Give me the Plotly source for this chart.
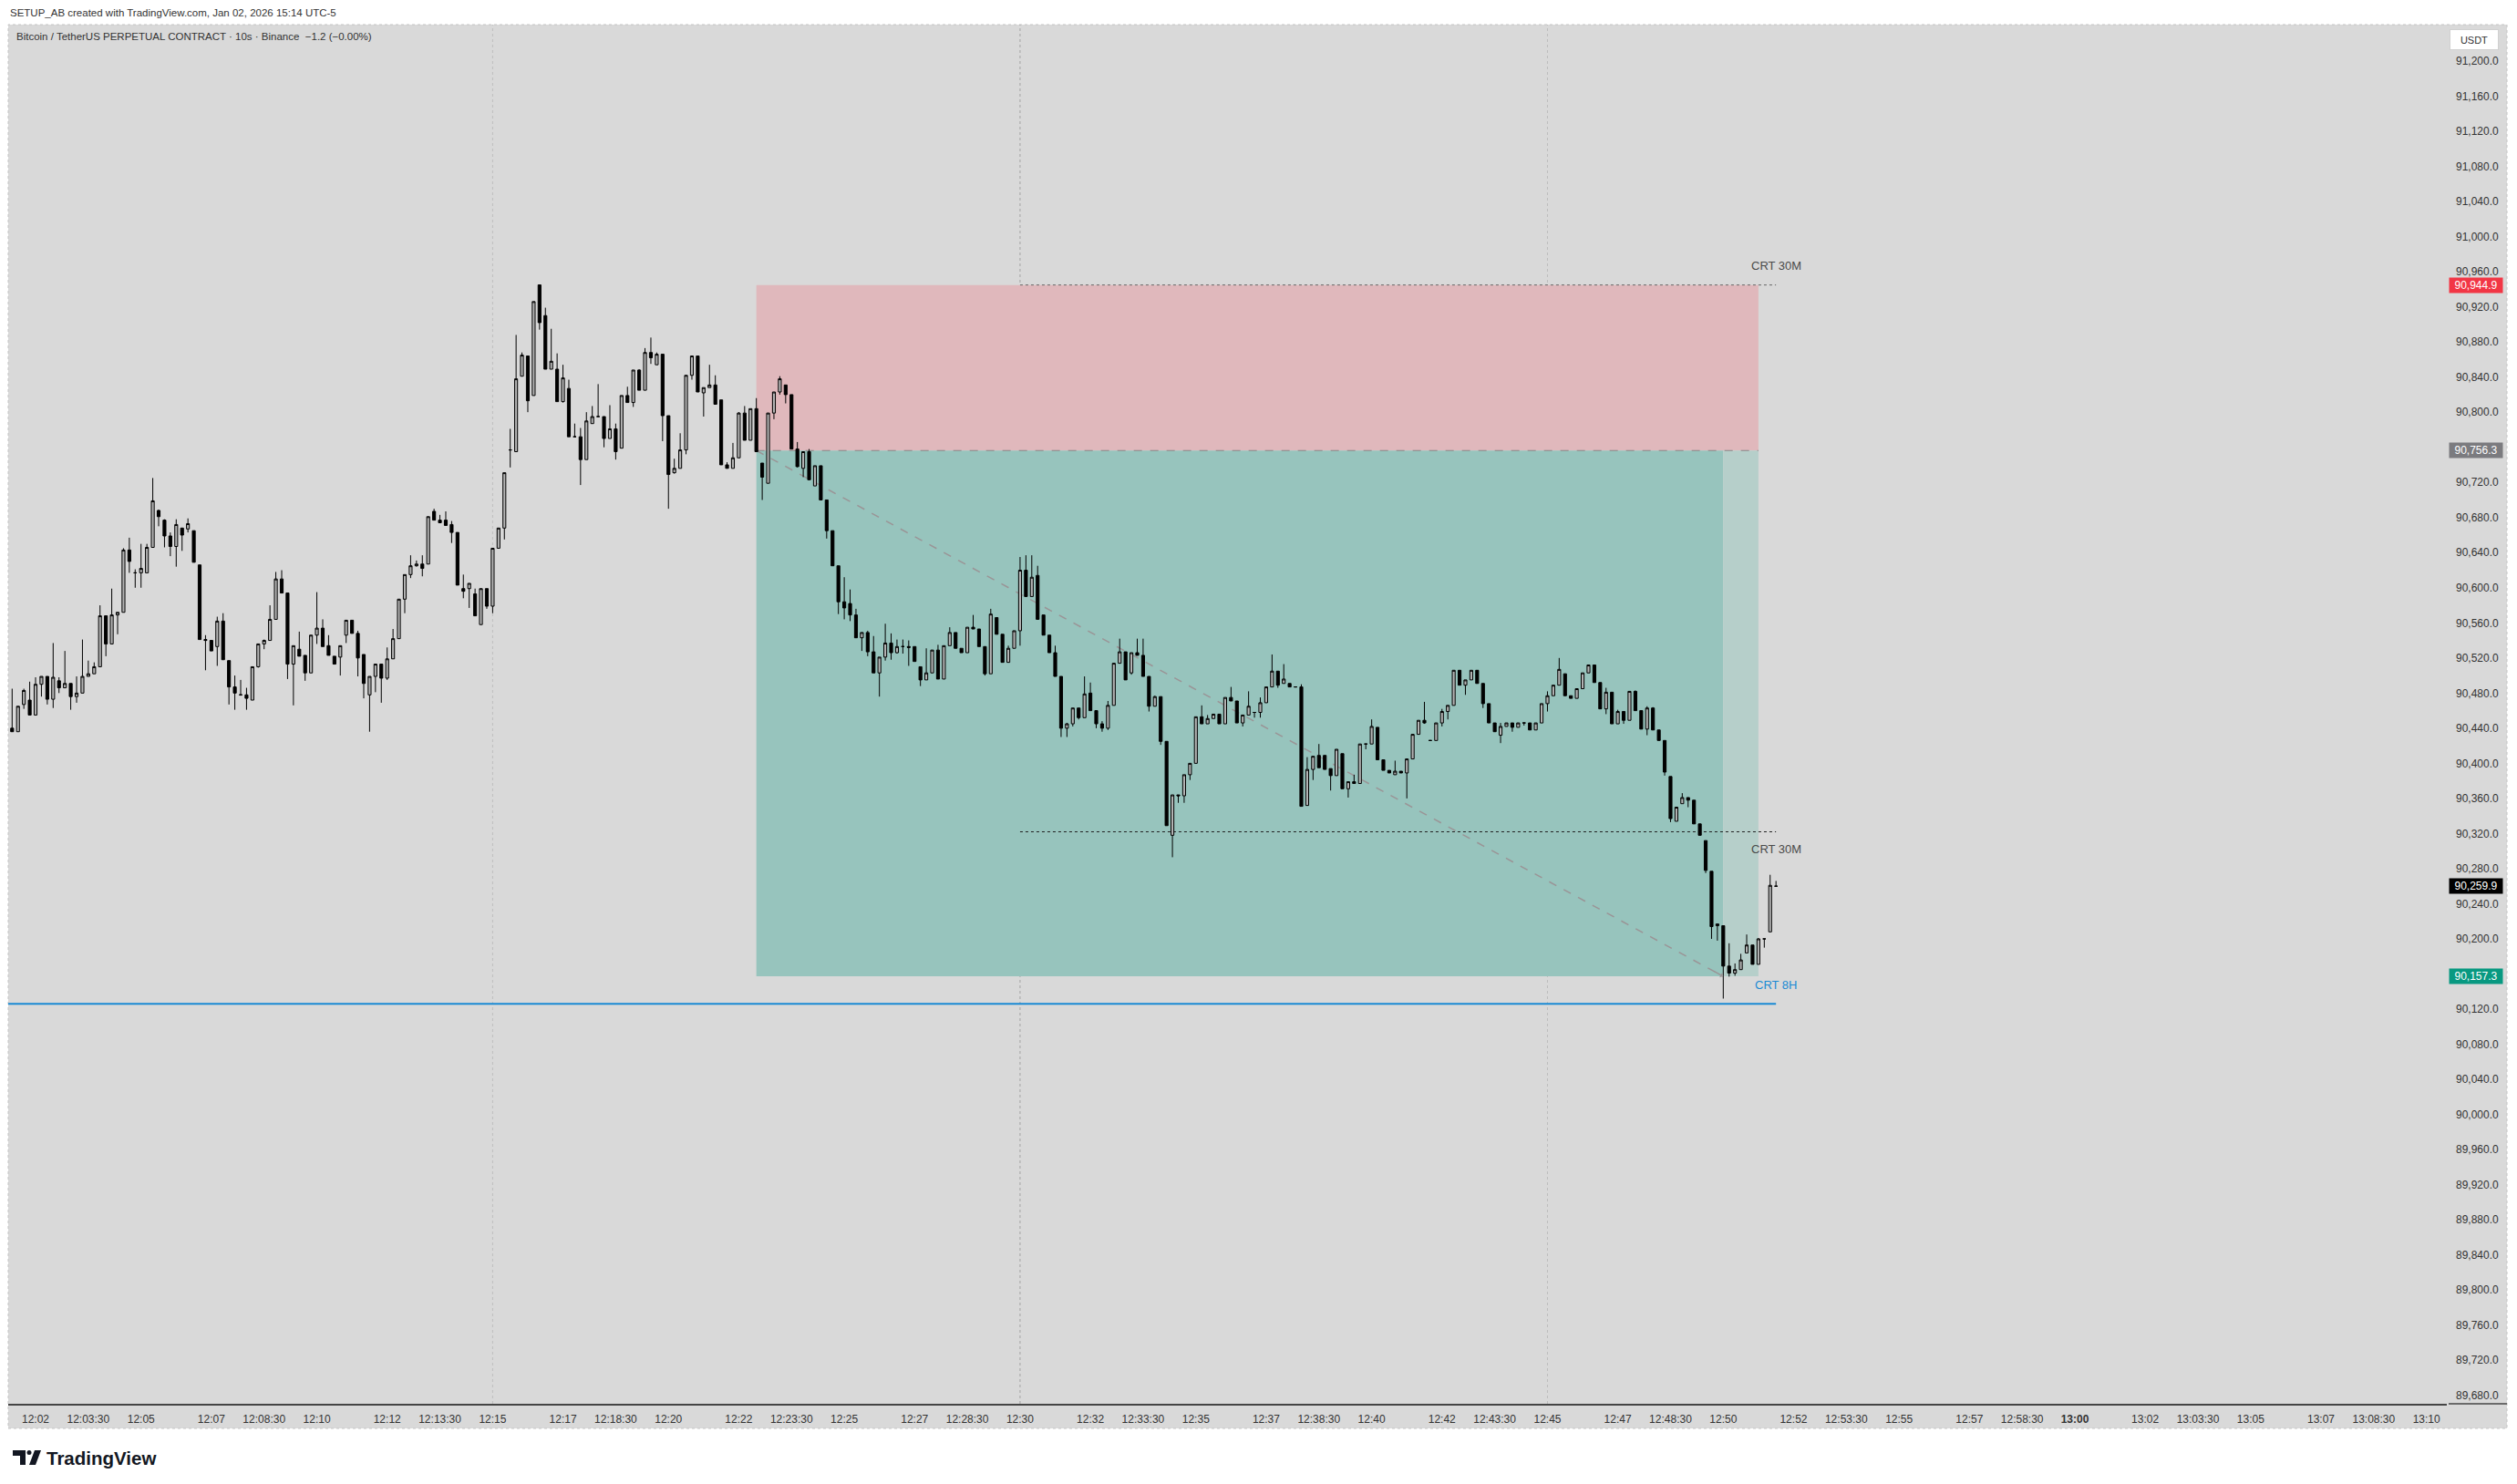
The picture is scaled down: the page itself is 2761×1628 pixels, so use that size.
import plotly.graph_objects as go
import pandas as pd

# ---------------- data (10-second candles, BTCUSDT.P) ----------------
open_ = [90440, 90436, 90467, 90472, 90455, 90490, 90499, 90473, 90494, 90486,
         90491, 90476, 90480, 90499, 90502, 90510, 90568, 90536, 90569, 90572,
         90643, 90617, 90617, 90617, 90646, 90688, 90677, 90659, 90647, 90668,
         90667, 90665, 90626, 90541, 90540, 90533, 90562, 90517, 90487, 90478,
         90478, 90472, 90510, 90536, 90540, 90564, 90610, 90594, 90513, 90530,
         90523, 90503, 90546, 90554, 90534, 90522, 90521, 90546, 90563, 90548,
         90524, 90478, 90499, 90513, 90497, 90519, 90542, 90587, 90615, 90625,
         90627, 90627, 90687, 90677, 90677, 90672, 90663, 90599, 90599, 90593,
         90558, 90599, 90579, 90645, 90668, 90757, 90755, 90841, 90864, 90819,
         90945, 90910, 90849, 90849, 90812, 90827, 90772, 90772, 90746, 90787,
         90795, 90795, 90770, 90781, 90759, 90819, 90811, 90848, 90825, 90868,
         90854, 90866, 90796, 90731, 90736, 90757, 90842, 90864, 90822, 90828,
         90831, 90814, 90740, 90736, 90748, 90799, 90768, 90804, 90742, 90719,
         90799, 90823, 90831, 90820, 90758, 90736, 90755, 90716, 90739, 90700,
         90665, 90625, 90584, 90582, 90569, 90543, 90549, 90527, 90503, 90521,
         90537, 90526, 90533, 90533, 90533, 90510, 90495, 90503, 90529, 90496,
         90534, 90549, 90531, 90526, 90555, 90553, 90533, 90502, 90566, 90547,
         90515, 90531, 90551, 90620, 90590, 90614, 90569, 90546, 90526, 90499,
         90440, 90445, 90463, 90452, 90480, 90460, 90445, 90440, 90466, 90514,
         90527, 90503, 90526, 90523, 90499, 90465, 90476, 90425, 90318, 90364,
         90363, 90387, 90400, 90453, 90445, 90451, 90456, 90445, 90475, 90471,
         90446, 90455, 90458, 90458, 90469, 90487, 90505, 90491, 90491, 90487,
         90487, 90352, 90393, 90409, 90409, 90394, 90386, 90411, 90371, 90379,
         90377, 90422, 90422, 90441, 90404, 90392, 90387, 90391, 90389, 90405,
         90433, 90449, 90426, 90426, 90446, 90459, 90466, 90506, 90489, 90495,
         90506, 90491, 90468, 90446, 90432, 90442, 90446, 90441, 90446, 90446,
         90438, 90446, 90468, 90477, 90489, 90502, 90477, 90474, 90485, 90503,
         90512, 90492, 90462, 90481, 90445, 90459, 90449, 90482, 90460, 90439,
         90463, 90438, 90426, 90385, 90334, 90354, 90361, 90358, 90331, 90312,
         90277, 90215, 90215, 90169, 90161, 90165, 90184, 90193, 90171, 90200,
         90208, 90260]
high = [90485, 90465, 90485, 90493, 90498, 90499, 90499, 90537, 90498, 90528,
        90491, 90499, 90541, 90517, 90515, 90580, 90568, 90599, 90572, 90645,
        90657, 90621, 90650, 90650, 90725, 90689, 90678, 90663, 90678, 90668,
        90679, 90665, 90626, 90546, 90540, 90567, 90571, 90517, 90500, 90495,
        90486, 90510, 90536, 90541, 90580, 90618, 90620, 90594, 90534, 90550,
        90523, 90546, 90595, 90564, 90546, 90522, 90534, 90563, 90563, 90551,
        90524, 90499, 90513, 90513, 90532, 90553, 90587, 90615, 90637, 90631,
        90637, 90681, 90690, 90683, 90687, 90676, 90663, 90615, 90605, 90599,
        90599, 90599, 90645, 90668, 90731, 90781, 90888, 90868, 90864, 90926,
        90945, 90919, 90895, 90867, 90854, 90837, 90787, 90782, 90800, 90807,
        90832, 90795, 90808, 90787, 90819, 90829, 90848, 90849, 90873, 90885,
        90868, 90866, 90796, 90747, 90776, 90842, 90864, 90864, 90828, 90854,
        90842, 90814, 90743, 90765, 90800, 90807, 90804, 90816, 90742, 90799,
        90823, 90841, 90831, 90820, 90766, 90755, 90758, 90739, 90739, 90700,
        90665, 90625, 90612, 90598, 90576, 90549, 90551, 90545, 90521, 90559,
        90548, 90541, 90541, 90540, 90533, 90510, 90531, 90529, 90535, 90534,
        90555, 90549, 90531, 90555, 90569, 90553, 90533, 90576, 90566, 90547,
        90534, 90551, 90635, 90637, 90637, 90625, 90569, 90546, 90534, 90499,
        90446, 90463, 90463, 90499, 90492, 90460, 90448, 90471, 90514, 90542,
        90527, 90526, 90542, 90542, 90499, 90477, 90476, 90425, 90364, 90364,
        90387, 90400, 90453, 90466, 90455, 90456, 90456, 90475, 90487, 90471,
        90455, 90482, 90458, 90475, 90487, 90524, 90505, 90513, 90491, 90487,
        90490, 90407, 90408, 90422, 90409, 90394, 90416, 90411, 90379, 90387,
        90422, 90422, 90450, 90441, 90404, 90392, 90403, 90391, 90405, 90433,
        90449, 90470, 90426, 90446, 90462, 90466, 90506, 90506, 90495, 90506,
        90506, 90491, 90468, 90446, 90446, 90446, 90446, 90446, 90446, 90446,
        90446, 90468, 90482, 90489, 90520, 90502, 90477, 90485, 90503, 90512,
        90512, 90492, 90486, 90481, 90461, 90459, 90482, 90483, 90460, 90465,
        90464, 90438, 90426, 90385, 90350, 90366, 90361, 90358, 90331, 90312,
        90277, 90217, 90215, 90195, 90172, 90183, 90205, 90193, 90201, 90200,
        90273, 90266]
low = [90436, 90436, 90462, 90455, 90455, 90476, 90467, 90463, 90480, 90486,
       90461, 90469, 90480, 90499, 90502, 90510, 90522, 90536, 90547, 90572,
       90617, 90600, 90600, 90617, 90646, 90670, 90646, 90636, 90624, 90642,
       90663, 90629, 90541, 90506, 90528, 90511, 90518, 90467, 90461, 90477,
       90461, 90472, 90509, 90530, 90540, 90564, 90594, 90496, 90466, 90522,
       90494, 90503, 90536, 90533, 90523, 90513, 90500, 90537, 90548, 90499,
       90474, 90436, 90481, 90469, 90495, 90519, 90542, 90571, 90611, 90624,
       90613, 90627, 90677, 90674, 90671, 90651, 90603, 90588, 90577, 90568,
       90558, 90576, 90571, 90645, 90655, 90737, 90755, 90841, 90800, 90819,
       90894, 90849, 90849, 90812, 90811, 90772, 90772, 90717, 90746, 90787,
       90795, 90760, 90770, 90746, 90759, 90811, 90806, 90825, 90825, 90855,
       90854, 90767, 90690, 90730, 90736, 90752, 90837, 90823, 90795, 90828,
       90809, 90740, 90736, 90736, 90748, 90768, 90768, 90755, 90700, 90719,
       90792, 90820, 90810, 90758, 90737, 90726, 90723, 90716, 90700, 90656,
       90625, 90570, 90564, 90562, 90543, 90528, 90522, 90503, 90476, 90517,
       90518, 90525, 90525, 90511, 90516, 90488, 90495, 90503, 90496, 90496,
       90534, 90531, 90526, 90526, 90553, 90533, 90500, 90502, 90547, 90515,
       90515, 90531, 90534, 90590, 90590, 90564, 90546, 90526, 90499, 90430,
       90430, 90442, 90450, 90452, 90460, 90440, 90436, 90438, 90466, 90514,
       90495, 90501, 90523, 90499, 90459, 90465, 90421, 90329, 90293, 90355,
       90355, 90381, 90400, 90445, 90445, 90451, 90445, 90445, 90471, 90446,
       90442, 90455, 90452, 90452, 90469, 90487, 90486, 90491, 90487, 90487,
       90351, 90352, 90381, 90395, 90393, 90369, 90386, 90371, 90361, 90377,
       90377, 90416, 90422, 90404, 90392, 90389, 90387, 90389, 90360, 90405,
       90433, 90445, 90426, 90426, 90442, 90450, 90466, 90489, 90478, 90495,
       90491, 90463, 90446, 90436, 90423, 90442, 90436, 90441, 90443, 90438,
       90438, 90446, 90459, 90477, 90489, 90477, 90474, 90474, 90485, 90503,
       90492, 90462, 90456, 90445, 90445, 90445, 90449, 90460, 90439, 90432,
       90438, 90426, 90386, 90333, 90334, 90354, 90350, 90331, 90318, 90275,
       90200, 90198, 90132, 90157, 90158, 90165, 90184, 90171, 90171, 90190,
       90208, 90260]
close = [90436, 90465, 90483, 90455, 90490, 90499, 90473, 90498, 90486, 90491,
         90476, 90480, 90499, 90502, 90510, 90568, 90536, 90569, 90572, 90643,
         90630, 90617, 90622, 90646, 90699, 90681, 90659, 90647, 90672, 90660,
         90673, 90629, 90541, 90540, 90528, 90562, 90518, 90487, 90480, 90478,
         90474, 90510, 90536, 90540, 90564, 90610, 90594, 90513, 90534, 90522,
         90503, 90546, 90554, 90533, 90523, 90513, 90534, 90563, 90548, 90520,
         90491, 90499, 90513, 90497, 90519, 90542, 90587, 90615, 90625, 90627,
         90622, 90681, 90677, 90674, 90671, 90663, 90603, 90596, 90605, 90568,
         90599, 90579, 90645, 90668, 90731, 90757, 90838, 90865, 90813, 90926,
         90902, 90849, 90858, 90812, 90839, 90772, 90772, 90746, 90790, 90795,
         90795, 90770, 90781, 90755, 90819, 90811, 90848, 90825, 90868, 90862,
         90866, 90796, 90729, 90736, 90757, 90842, 90864, 90823, 90828, 90831,
         90809, 90740, 90736, 90748, 90799, 90768, 90804, 90755, 90726, 90799,
         90823, 90838, 90820, 90758, 90738, 90755, 90723, 90739, 90700, 90665,
         90625, 90584, 90577, 90569, 90543, 90549, 90527, 90503, 90521, 90537,
         90526, 90533, 90533, 90532, 90516, 90495, 90503, 90529, 90496, 90534,
         90549, 90531, 90526, 90555, 90553, 90533, 90502, 90570, 90547, 90515,
         90531, 90551, 90620, 90590, 90612, 90564, 90546, 90526, 90499, 90440,
         90445, 90463, 90452, 90479, 90460, 90445, 90440, 90466, 90514, 90527,
         90495, 90526, 90523, 90499, 90465, 90476, 90425, 90329, 90364, 90363,
         90387, 90400, 90453, 90445, 90451, 90456, 90445, 90475, 90471, 90446,
         90455, 90465, 90458, 90469, 90487, 90505, 90489, 90496, 90487, 90487,
         90351, 90393, 90408, 90395, 90393, 90386, 90416, 90371, 90379, 90377,
         90422, 90422, 90442, 90404, 90392, 90389, 90391, 90389, 90405, 90433,
         90449, 90446, 90426, 90446, 90459, 90466, 90506, 90489, 90495, 90506,
         90491, 90468, 90446, 90436, 90442, 90446, 90441, 90446, 90446, 90438,
         90446, 90468, 90477, 90489, 90507, 90477, 90474, 90485, 90503, 90512,
         90492, 90462, 90481, 90445, 90459, 90449, 90482, 90460, 90439, 90463,
         90438, 90426, 90390, 90337, 90350, 90361, 90358, 90331, 90318, 90278,
         90214, 90217, 90169, 90161, 90165, 90176, 90193, 90171, 90200, 90200,
         90261, 90260]

day = "2026-01-02 "
first_bar = day + "12:01:20"
times = pd.date_range(first_bar, periods=len(open_), freq="10s")

x_range = [day + "12:01:13.3", day + "13:10:34.7"]
y_range = [89670.4, 91241.5]
price_ticks = list(range(89680, 91201, 40))

tick_times = ["12:02", "12:03:30", "12:05", "12:07", "12:08:30", "12:10", "12:12", "12:13:30",
              "12:15", "12:17", "12:18:30", "12:20", "12:22", "12:23:30", "12:25", "12:27",
              "12:28:30", "12:30", "12:32", "12:33:30", "12:35", "12:37", "12:38:30", "12:40",
              "12:42", "12:43:30", "12:45", "12:47", "12:48:30", "12:50", "12:52", "12:53:30",
              "12:55", "12:57", "12:58:30", "13:00", "13:02", "13:03:30", "13:05", "13:07",
              "13:08:30", "13:10"]
tick_text = ["<b>%s</b>" % t if t == "13:00" else t for t in tick_times]
tick_vals = [day + (t if t.count(":") == 2 else t + ":00") for t in tick_times]

# position tool & levels
pos_start = day + "12:22:30"
pos_hit = day + "12:50:00"
pos_end = day + "12:51:00"
stop_price = 90944.9
entry_price = 90756.3
target_price = 90157.3
last_price = 90259.9
crt30_start = day + "12:30:00"
level_end = day + "12:51:30"
crt30_high = 90944.9
crt30_low = 90322.0
crt8h_level = 90126.0
session_lines = [day + "12:15:00", day + "12:30:00", day + "12:45:00"]

# ---------------- figure ----------------
W, H = 2761, 1628
L, R, T, B = 9, 77, 27, 88
PW, PH = W - L - R, H - T - B


def px(x):
    return (x - L) / PW


def py(y):
    return (H - B - y) / PH


BG = "#d9d9d9"
FONT = "Liberation Sans, Arial, sans-serif"

fig = go.Figure()
fig.add_trace(go.Candlestick(
    x=times, open=open_, high=high, low=low, close=close,
    increasing=dict(fillcolor="#b3b3b3", line=dict(color="#000000", width=1)),
    decreasing=dict(fillcolor="#000000", line=dict(color="#000000", width=1)),
    whiskerwidth=0, showlegend=False, hoverinfo="skip",
))

shapes = []
# chart frame (paper)
shapes.append(dict(type="rect", xref="paper", yref="paper", x0=px(L), x1=px(2750),
                   y0=py(1567), y1=py(T), fillcolor=BG,
                   line=dict(color="#c4c4c4", width=1, dash="dot"), layer="below"))
# position tool boxes
shapes.append(dict(type="rect", xref="x", yref="y", x0=pos_start, x1=pos_end,
                   y0=entry_price, y1=stop_price, fillcolor="#e0b8bc", line=dict(width=0), layer="below"))
shapes.append(dict(type="rect", xref="x", yref="y", x0=pos_start, x1=pos_hit,
                   y0=target_price, y1=entry_price, fillcolor="#97c4bd", line=dict(width=0), layer="below"))
shapes.append(dict(type="rect", xref="x", yref="y", x0=pos_hit, x1=pos_end,
                   y0=target_price, y1=entry_price, fillcolor="#b6cfca", line=dict(width=0), layer="below"))
# session vertical lines
for i, s in enumerate(session_lines):
    shapes.append(dict(type="line", xref="x", yref="paper", x0=s, x1=s, y0=0, y1=1,
                       line=dict(color="#a2a2a2" if i == 1 else "#bdbdbd", width=1, dash="dot"),
                       layer="below"))
# entry line and diagonal
shapes.append(dict(type="line", xref="x", yref="y", x0=pos_start, x1=pos_end,
                   y0=entry_price, y1=entry_price, line=dict(color="#868686", width=1, dash="dash"),
                   layer="below"))
shapes.append(dict(type="line", xref="x", yref="y", x0=pos_start, x1=pos_hit,
                   y0=entry_price, y1=target_price, line=dict(color="#9a9496", width=1.5, dash="dash"),
                   layer="below"))
# CRT levels
shapes.append(dict(type="line", xref="x", yref="y", x0=crt30_start, x1=level_end,
                   y0=crt30_high, y1=crt30_high, line=dict(color="#666666", width=1, dash="dot"),
                   layer="below"))
shapes.append(dict(type="line", xref="x", yref="y", x0=crt30_start, x1=level_end,
                   y0=crt30_low, y1=crt30_low, line=dict(color="#222222", width=1, dash="dot"),
                   layer="below"))
shapes.append(dict(type="line", xref="x", yref="y", x0=x_range[0], x1=level_end,
                   y0=crt8h_level, y1=crt8h_level, line=dict(color="#1a8ad4", width=2),
                   layer="above"))
# price-axis baseline continuation
shapes.append(dict(type="line", xref="paper", yref="paper", x0=px(2686), x1=px(2750),
                   y0=0, y1=0, line=dict(color="#444444", width=1.5)))
# TradingView logo
logo_T = "M %f %f L %f %f L %f %f L %f %f L %f %f L %f %f Z" % (
    px(14), py(1591), px(28), py(1591), px(28), py(1607), px(22), py(1607), px(22), py(1597), px(14), py(1597))
logo_V = "M %f %f L %f %f L %f %f L %f %f Z" % (
    px(38), py(1591), px(45), py(1591), px(39), py(1607), px(32), py(1607))
shapes.append(dict(type="path", xref="paper", yref="paper", path=logo_T, fillcolor="#131722",
                   line=dict(width=0)))
shapes.append(dict(type="path", xref="paper", yref="paper", path=logo_V, fillcolor="#131722",
                   line=dict(width=0)))
shapes.append(dict(type="circle", xref="paper", yref="paper", x0=px(29.5), x1=px(34.5),
                   y0=py(1596), y1=py(1591), fillcolor="#131722", line=dict(width=0)))

ann = []
ann.append(dict(xref="paper", yref="paper", x=px(9), y=py(14), xanchor="left", yanchor="middle",
                text="SETUP_AB created with TradingView.com, Jan 02, 2026 15:14 UTC-5",
                showarrow=False, font=dict(size=11.5, color="#333333", family=FONT)))
ann.append(dict(xref="paper", yref="paper", x=px(16), y=py(40.5), xanchor="left", yanchor="middle",
                text="Bitcoin / TetherUS PERPETUAL CONTRACT · 10s · Binance\u00a0\u00a0−1.2 (−0.00%)",
                showarrow=False, font=dict(size=11.5, color="#333333", family=FONT)))
ann.append(dict(xref="paper", yref="paper", x=px(49), y=py(1599), xanchor="left", yanchor="middle",
                text="<b>TradingView</b>", showarrow=False,
                font=dict(size=20.5, color="#131722", family=FONT)))
# level labels
ann.append(dict(xref="x", yref="y", x=level_end, y=crt30_high, yshift=21, text="CRT 30M",
                showarrow=False, font=dict(size=13, color="#4a4a4a", family=FONT)))
ann.append(dict(xref="x", yref="y", x=level_end, y=crt30_low, yshift=-19, text="CRT 30M",
                showarrow=False, font=dict(size=13, color="#4a4a4a", family=FONT)))
ann.append(dict(xref="x", yref="y", x=level_end, y=crt8h_level, yshift=21, text="CRT 8H",
                showarrow=False, font=dict(size=13, color="#1a8ad4", family=FONT)))
# arrow head of the projection line
ann.append(dict(xref="x", yref="y", x=pos_hit, y=target_price, ax=-11, ay=-6, text="",
                showarrow=True, arrowhead=1, arrowsize=0.8, arrowwidth=1.3, arrowcolor="#9a9496"))
# price tags
for val, col in [(stop_price, "#f23645"), (entry_price, "#7b7b7f"),
                 (last_price, "#000000"), (target_price, "#089981")]:
    ann.append(dict(xref="paper", yref="y", x=px(2686), y=val, xanchor="left", yanchor="middle",
                    text="{:,.1f}".format(val), showarrow=False, bgcolor=col, width=56, height=14,
                    borderpad=1, font=dict(size=12, color="#ffffff", family=FONT)))
ann.append(dict(xref="paper", yref="paper", x=px(2687), y=py(43.5), xanchor="left", yanchor="middle",
                text="USDT", showarrow=False, bgcolor="#ffffff", bordercolor="#d0d0d0", borderwidth=1,
                width=50, height=19, font=dict(size=11, color="#333333", family=FONT)))

fig.update_layout(
    width=W, height=H, margin=dict(l=L, r=R, t=T, b=B, pad=0),
    paper_bgcolor="#ffffff", plot_bgcolor=BG,
    font=dict(family=FONT, size=12, color="#333333"),
    shapes=shapes, annotations=ann, showlegend=False, hovermode=False,
    xaxis=dict(type="date", range=x_range, rangeslider=dict(visible=False),
               tickvals=tick_vals, ticktext=tick_text, tickfont=dict(size=12, color="#333333"),
               showgrid=False, zeroline=False, showline=True, linecolor="#444444", linewidth=1.5,
               ticks="", ticklabelstandoff=5, fixedrange=True),
    yaxis=dict(side="right", range=y_range, tickvals=price_ticks, tickformat=",.1f",
               tickfont=dict(size=12, color="#333333"), showgrid=False, zeroline=False,
               showline=False, ticks="", ticklabelstandoff=9, fixedrange=True),
)

fig.write_html("out.html", config={"displayModeBar": False},
               post_script="document.body.style.margin='0';document.body.style.overflow='hidden';")
